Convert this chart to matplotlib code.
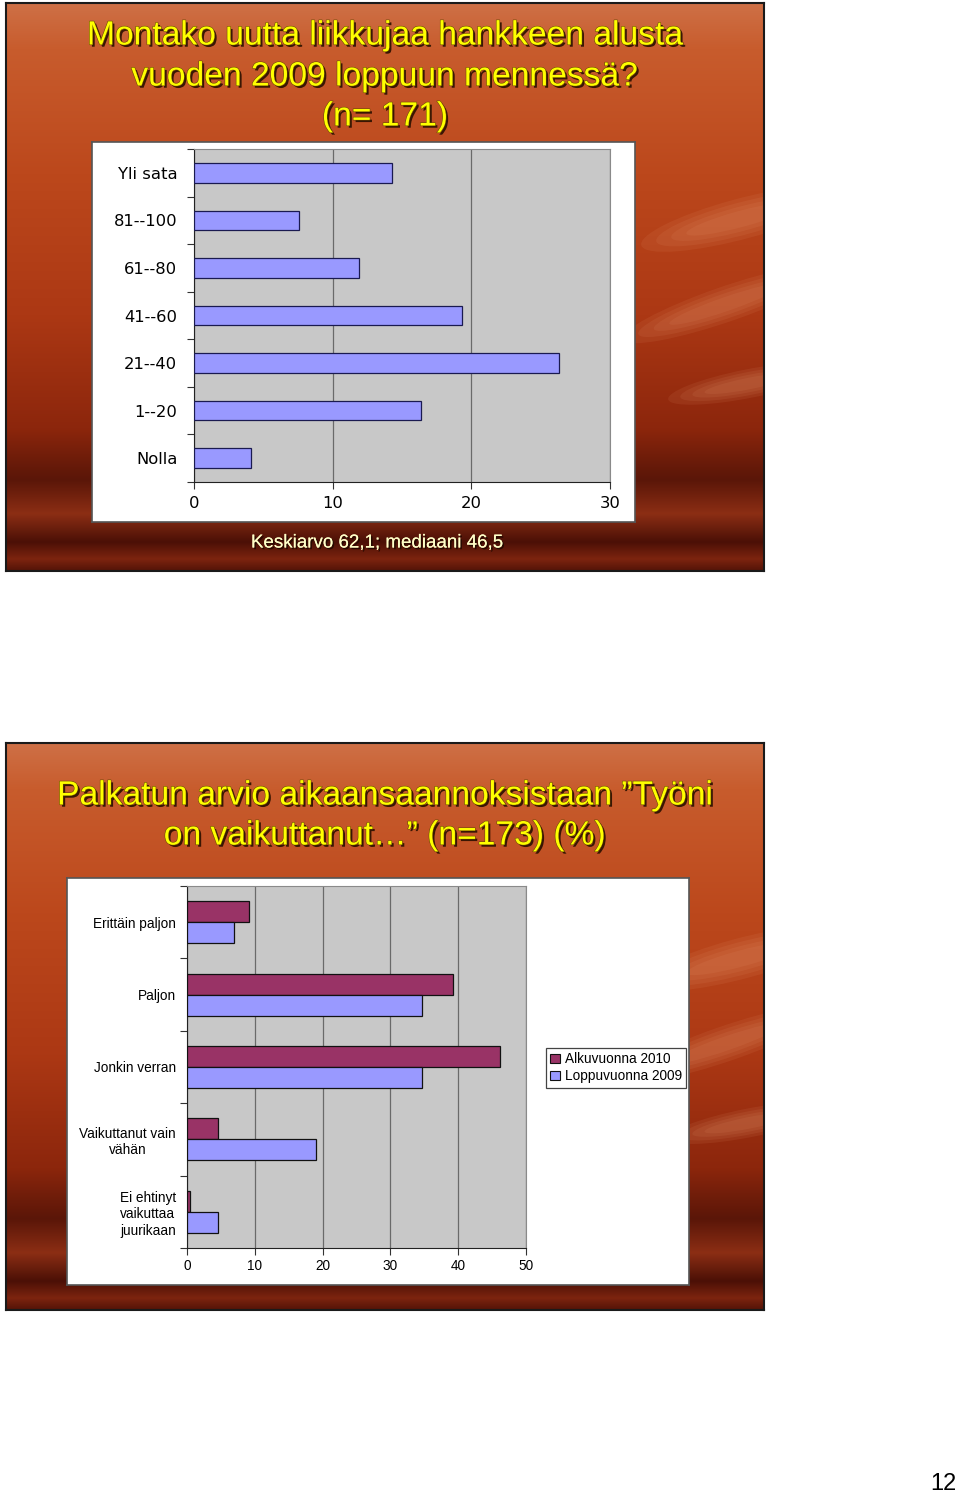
import numpy as np
import matplotlib
matplotlib.use("Agg")
import matplotlib.pyplot as plt
import matplotlib.patheffects as pe
from matplotlib.patches import Ellipse, Patch

W, H = 960, 1494

# slide 1: uusia liikkujia (%), n=171
sizes = ["Nolla", "1--20", "21--40", "41--60", "61--80", "81--100", "Yli sata"]
size_share = [4.1, 16.4, 26.3, 19.3, 11.9, 7.6, 14.3]

# slide 2: "Työni on vaikuttanut..." (%), n=173
effect = ["Ei ehtinyt\nvaikuttaa\njuurikaan", "Vaikuttanut vain\nvähän",
          "Jonkin verran", "Paljon", "Erittäin paljon"]
alku_2010 = [0.5, 4.6, 46.2, 39.3, 9.1]
loppu_2009 = [4.6, 19.1, 34.7, 34.7, 6.9]

title1 = ["Montako uutta liikkujaa hankkeen alusta",
          "vuoden 2009 loppuun mennessä?",
          "(n= 171)"]
title2 = ["Palkatun arvio aikaansaannoksistaan \u201dTyöni",
          "on vaikuttanut\u2026\u201d (n=173) (%)"]


def box(x0, y0, x1, y1):
    # pixel box (top-left origin) -> figure fraction
    return [x0 / W, 1 - y1 / H, (x1 - x0) / W, (y1 - y0) / H]


def slide_bg(fig, rect):
    ax = fig.add_axes(box(*rect))
    stops = [0, .08, .3, .55, .75, .84, .9, .95, .98, 1]
    cols = np.array([(206, 112, 70), (200, 92, 45), (188, 72, 28), (172, 56, 20),
                     (140, 38, 12), (90, 22, 8), (140, 46, 20), (75, 16, 6),
                     (125, 36, 15), (85, 20, 8)]) / 255
    t = np.linspace(0, 1, 400)
    grad = np.stack([np.interp(t, stops, cols[:, i]) for i in range(3)], axis=1)
    ax.imshow(np.repeat(grad[:, None, :], 2, axis=1), aspect="auto",
              extent=[0, 1, 0, 1], interpolation="bilinear")
    # soft light dune streaks on the right side
    for cx, cy, w, h, a in [(0.97, 0.62, 0.28, 0.07, 20), (0.95, 0.47, 0.3, 0.06, 25),
                            (0.98, 0.33, 0.22, 0.05, 15)]:
        for k in range(4):
            ax.add_patch(Ellipse((cx, cy), w * (1 - 0.15 * k), h * (1 - 0.2 * k), angle=a,
                                 color="#f0a880", alpha=0.09, lw=0))
    ax.set_xlim(0, 1)
    ax.set_ylim(0, 1)
    ax.set_xticks([])
    ax.set_yticks([])
    for s in ax.spines.values():
        s.set_color("#1a1a1a")
        s.set_linewidth(1.5)
    return ax


def white_panel(fig, rect):
    ax = fig.add_axes(box(*rect))
    ax.set_facecolor("white")
    ax.set_xticks([])
    ax.set_yticks([])
    for s in ax.spines.values():
        s.set_color("#555555")
        s.set_linewidth(1.2)
    return ax


def style_plot(ax, ncat, xmax):
    ax.set_facecolor("#C8C8C8")
    ax.set_xlim(0, xmax)
    ax.set_ylim(-0.5, ncat - 0.5)
    ax.xaxis.grid(True, color="#6a6a6a", lw=0.9)
    ax.set_axisbelow(True)
    ax.set_yticks(np.arange(-0.5, ncat), labels=[])
    ax.tick_params(axis="y", which="major", length=5, direction="out", color="#333333")
    ax.tick_params(axis="x", length=5, direction="out", color="#333333")
    ax.spines["left"].set_color("#222222")
    ax.spines["bottom"].set_color("#222222")
    ax.spines["top"].set_color("#8a8a8a")
    ax.spines["right"].set_color("#8a8a8a")


def title(fig, lines, ys):
    for line, y in zip(lines, ys):
        fig.text(385 / W, 1 - y / H, line, ha="center", va="center", fontsize=24.2,
                 family="Liberation Sans", color="#FFFF00",
                 path_effects=[pe.withSimplePatchShadow(offset=(1.6, -1.6), shadow_rgbFace="#2a1000", alpha=0.9),
                               pe.Stroke(linewidth=0.8, foreground="#6b4a00"), pe.Normal()])


fig = plt.figure(figsize=(W / 100, H / 100), dpi=100)
fig.patch.set_facecolor("white")

# ---------------- slide 1 ----------------
slide_bg(fig, (6, 3, 764, 571))
white_panel(fig, (92, 142, 635, 522))
ax1 = fig.add_axes(box(194, 149, 610, 482))
y1 = np.arange(len(sizes))
ax1.barh(y1, size_share, height=0.41, color="#9999FF", edgecolor="#1a1a50", linewidth=0.9, zorder=3)
style_plot(ax1, len(sizes), 30)
ax1.set_xticks([0, 10, 20, 30])
ax1.set_yticks(y1, labels=sizes, minor=True)
ax1.tick_params(axis="y", which="minor", length=0, pad=12)
ax1.tick_params(axis="x", pad=5)
for lab in ax1.get_xticklabels() + ax1.get_yticklabels(minor=True):
    lab.set_fontfamily("DejaVu Sans")
    lab.set_fontsize(11.8)
title(fig, title1, [36, 77, 117])
fig.text(377 / W, 1 - 543 / H, "Keskiarvo 62,1; mediaani 46,5", ha="center", va="center",
         fontsize=13.5, family="Liberation Sans", color="#FFFFC8",
         path_effects=[pe.withSimplePatchShadow(offset=(1.2, -1.2), shadow_rgbFace="#200800", alpha=0.9),
                       pe.Normal()])

# ---------------- slide 2 ----------------
slide_bg(fig, (6, 743, 764, 1310))
white_panel(fig, (67, 878, 689, 1285))
ax2 = fig.add_axes(box(187, 886, 526, 1248))
y2 = np.arange(len(effect))
ax2.barh(y2 + 0.145, alku_2010, height=0.29, color="#993366", edgecolor="#111111", linewidth=0.9, zorder=3)
ax2.barh(y2 - 0.145, loppu_2009, height=0.29, color="#9999FF", edgecolor="#111111", linewidth=0.9, zorder=3)
style_plot(ax2, len(effect), 50)
ax2.set_xticks(np.arange(0, 51, 10))
ax2.set_yticks(y2, labels=effect, minor=True)
ax2.tick_params(axis="y", which="minor", length=0, pad=8)
ax2.tick_params(axis="x", pad=3)
for lab in ax2.get_xticklabels() + ax2.get_yticklabels(minor=True):
    lab.set_fontfamily("Liberation Sans")
    lab.set_fontsize(9.8)
for lab in ax2.get_yticklabels(minor=True):
    lab.set_multialignment("center")
handles = [Patch(facecolor="#993366", edgecolor="#111111", lw=0.8),
           Patch(facecolor="#9999FF", edgecolor="#111111", lw=0.8)]
leg = ax2.legend(handles, ["Alkuvuonna 2010", "Loppuvuonna 2009"], loc="upper left",
                 bbox_to_anchor=(546 / W, 1 - 1048 / H), bbox_transform=fig.transFigure,
                 fancybox=False, edgecolor="#444444", framealpha=1, borderpad=0.3,
                 handlelength=0.7, handleheight=0.7, handletextpad=0.4, labelspacing=0.25,
                 borderaxespad=0, prop={"family": "Liberation Sans", "size": 9.8})
leg.get_frame().set_linewidth(0.9)
title(fig, title2, [796, 836])

fig.text(957 / W, 1 - 1484 / H, "12", ha="right", va="center", fontsize=17,
         family="Liberation Sans", color="black")

fig.savefig("out.png", dpi=100)
